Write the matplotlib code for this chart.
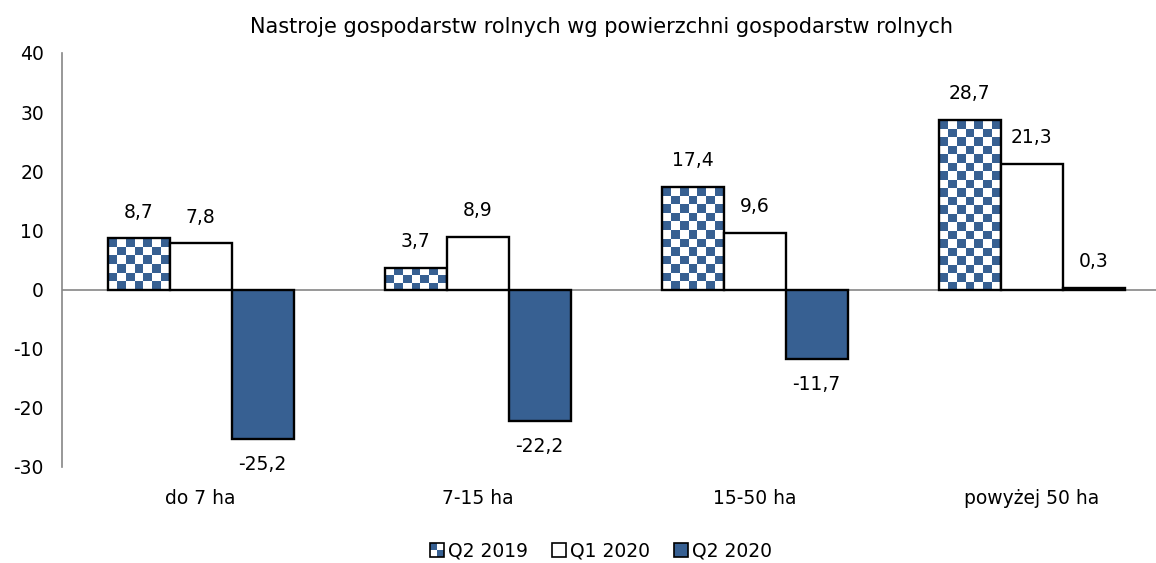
import numpy as np
import matplotlib
matplotlib.use("Agg")
import matplotlib.pyplot as plt
from matplotlib.patches import Rectangle
from matplotlib.colors import ListedColormap
from matplotlib.legend_handler import HandlerPatch

categories = ["do 7 ha", "7-15 ha", "15-50 ha", "powyżej 50 ha"]
series_names = ["Q2 2019", "Q1 2020", "Q2 2020"]
q2_2019 = [8.7, 3.7, 17.4, 28.7]
q1_2020 = [7.8, 8.9, 9.6, 21.3]
q2_2020 = [-25.2, -22.2, -11.7, 0.3]
yticks = [-30, -20, -10, 0, 10, 20, 30, 40]
title = "Nastroje gospodarstw rolnych wg powierzchni gospodarstw rolnych"

BLUE = "#376092"
FONT = "DejaVu Sans"
plt.rcParams["font.family"] = [FONT]

W, H, DPI = 1156, 563, 100
fig = plt.figure(figsize=(W / DPI, H / DPI), dpi=DPI)
left, right = 62 / W, 1170 / W
bottom, top = (H - 467) / H, (H - 53) / H
ax = fig.add_axes([left, bottom, right - left, top - bottom])
ax.set_xlim(-0.5, 3.5)
ax.set_ylim(-30, 40)

x = np.arange(len(categories))
bw = 62 / 277
offsets = [-bw, 0, bw]

bars1 = ax.bar(x + offsets[0], q2_2019, bw, facecolor="white", edgecolor="black", linewidth=1.7, zorder=3)
bars2 = ax.bar(x + offsets[1], q1_2020, bw, facecolor="white", edgecolor="black", linewidth=1.7, zorder=3)
bars3 = ax.bar(x + offsets[2], q2_2020, bw, facecolor=BLUE, edgecolor="black", linewidth=1.7, zorder=3)

# checkerboard fill clipped to the Q2 2019 bars
fig.canvas.draw()
sq = 8.3
cmap = ListedColormap(["white", BLUE])
for b in bars1:
    x0, y0 = b.get_x(), b.get_y()
    w, h = b.get_width(), b.get_height()
    ylo, yhi = min(y0, y0 + h), max(y0, y0 + h)
    p0 = ax.transData.transform((x0, ylo))
    p1 = ax.transData.transform((x0 + w, yhi))
    nx = max(1, int(round((p1[0] - p0[0]) / sq)))
    ny = max(1, int(round((p1[1] - p0[1]) / sq)))
    ii, jj = np.meshgrid(np.arange(ny), np.arange(nx), indexing="ij")
    board = ((ii + jj) % 2).astype(float)
    im = ax.imshow(board, cmap=cmap, vmin=0, vmax=1, interpolation="nearest",
                   extent=(x0, x0 + w, yhi, ylo), aspect="auto", zorder=2.5, origin="upper")
    im.set_clip_path(b)
    b.set_facecolor("none")
ax.set_xlim(-0.5, 3.5)
ax.set_ylim(-30, 40)

def fmt(v):
    return f"{v:.1f}".replace(".", ",")

for bars, vals in [(bars1, q2_2019), (bars2, q1_2020), (bars3, q2_2020)]:
    for b, v in zip(bars, vals):
        cx = b.get_x() + b.get_width() / 2
        dy = 26 * 0.72 if v >= 0 else -26 * 0.72
        ax.annotate(fmt(v), (cx, v), xytext=(0, dy), textcoords="offset points",
                    ha="center", va="center", fontsize=13.5, color="black")

ax.axhline(0, color="#868686", linewidth=1.2, zorder=1)
for s in ["top", "right", "bottom"]:
    ax.spines[s].set_visible(False)
ax.spines["left"].set_color("#868686")
ax.spines["left"].set_linewidth(1.2)
ax.set_yticks(yticks)
ax.set_yticklabels([str(t) for t in yticks], fontsize=13.5)
ax.tick_params(axis="y", length=0, pad=13)
ax.set_xticks([])

lbl_tr = matplotlib.transforms.offset_copy(ax.transData, fig=fig, x=0, y=-31, units="dots")
for xi, c in zip(x, categories):
    ax.text(xi, -30, c, transform=lbl_tr, ha="center", va="center", fontsize=13.5, clip_on=False)

fig.text(602 / W, 1 - 27 / H, title, ha="center", va="center", fontsize=15)

# legend
class CheckerHandler(HandlerPatch):
    def create_artists(self, legend, orig_handle, xdescent, ydescent, width, height, fontsize, trans):
        s = min(width, height)
        x0 = -xdescent + (width - s) / 2
        y0 = -ydescent + (height - s) / 2
        hs = s / 2
        return [Rectangle((x0, y0), s, s, facecolor="white", edgecolor="none", transform=trans),
                Rectangle((x0, y0 + hs), hs, hs, facecolor=BLUE, edgecolor="none", transform=trans),
                Rectangle((x0 + hs, y0), hs, hs, facecolor=BLUE, edgecolor="none", transform=trans),
                Rectangle((x0, y0), s, s, facecolor="none", edgecolor="black", linewidth=1.2, transform=trans)]

class SquareHandler(HandlerPatch):
    def create_artists(self, legend, orig_handle, xdescent, ydescent, width, height, fontsize, trans):
        s = min(width, height)
        x0 = -xdescent + (width - s) / 2
        y0 = -ydescent + (height - s) / 2
        return [Rectangle((x0, y0), s, s, facecolor=orig_handle.get_facecolor(),
                          edgecolor="black", linewidth=1.2, transform=trans)]

h1 = Rectangle((0, 0), 1, 1, facecolor=BLUE)
h2 = Rectangle((0, 0), 1, 1, facecolor="white")
h3 = Rectangle((0, 0), 1, 1, facecolor=BLUE)
fig.legend([h1, h2, h3], series_names, loc="center", bbox_to_anchor=(601 / W, 1 - 551 / H),
           ncol=3, frameon=False, fontsize=13.5, handlelength=0.75, handleheight=0.75,
           handletextpad=0.2, columnspacing=1.3,
           handler_map={h1: CheckerHandler(), h2: SquareHandler(), h3: SquareHandler()})

fig.savefig("out.png", dpi=DPI)
